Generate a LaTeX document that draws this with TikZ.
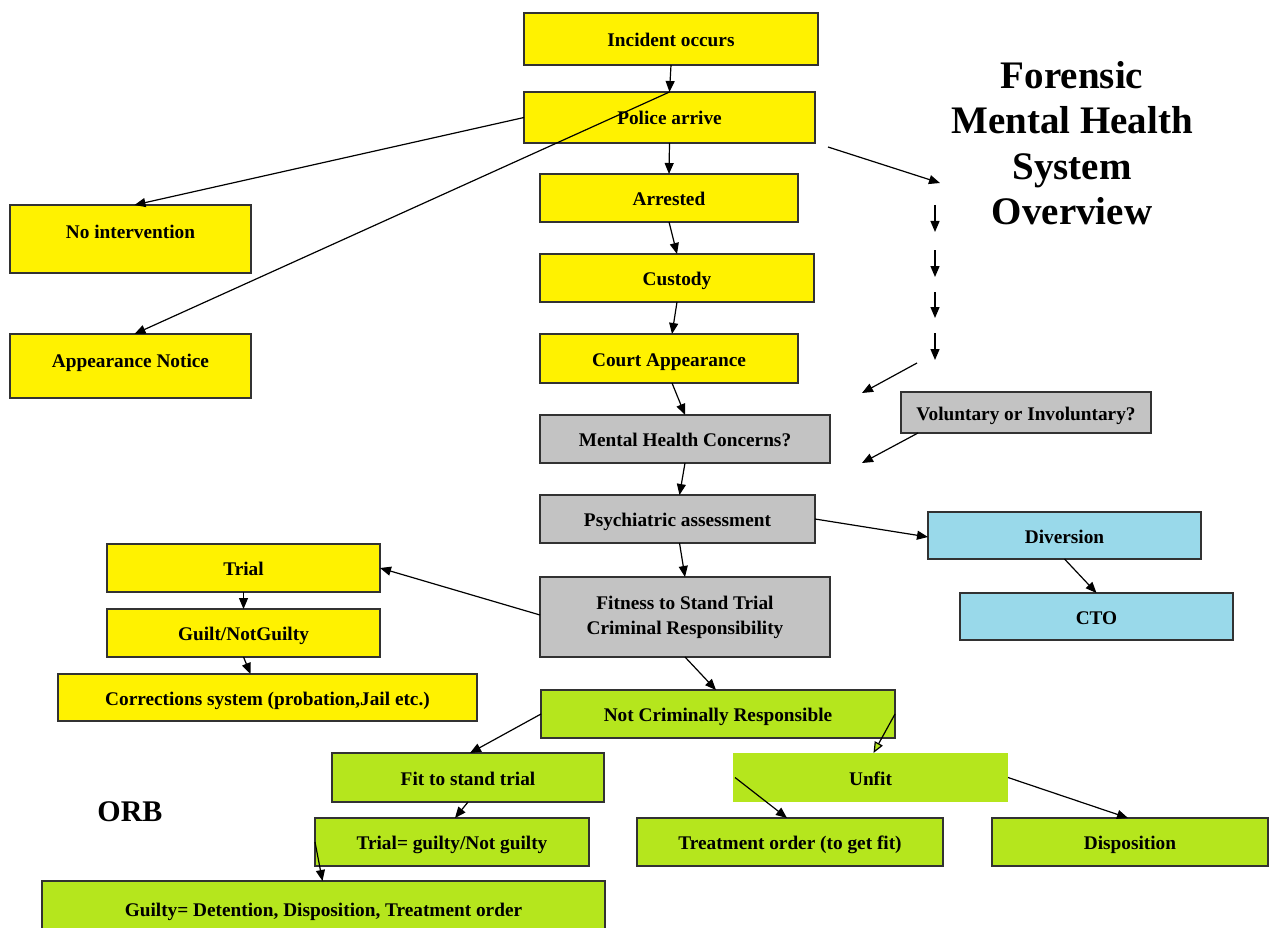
\documentclass[tikz,border=0pt]{standalone}
\usepackage{fontspec}
\setmainfont{Liberation Serif}
\usetikzlibrary{arrows.meta,calc}
\definecolor{ybox}{RGB}{255,242,0}
\definecolor{gbox}{RGB}{195,195,195}
\definecolor{bbox}{RGB}{153,217,234}
\definecolor{lbox}{RGB}{181,230,29}
\definecolor{edge}{RGB}{50,50,50}
\tikzset{
  box/.style={draw=edge, line width=1.3pt, inner sep=0pt, outer sep=0pt, align=center,
    font=\fontsize{19.3}{25}\selectfont\bfseries},
  one/.style={text height=15pt, text depth=0pt},
  yb/.style={box, one, fill=ybox},
  gb/.style={box, fill=gbox},
  bb/.style={box, one, fill=bbox},
  lb/.style={box, one, fill=lbox},
  conn/.style={line width=1.2pt, -{Triangle[length=11pt,width=9pt]}},
}
\begin{document}
\begin{tikzpicture}[x=1pt,y=-1pt]
\clip (0,0) rectangle (1269,928);
\fill[white] (0,0) rectangle (1269,928);
% boxes
\node[yb, minimum width=294, minimum height=52] (inc) at (671,39) {Incident occurs};
\node[yb, minimum width=291, minimum height=51] (pol) at (669.5,117.5) {Police arrive};
\node[yb, minimum width=258, minimum height=48] (arr) at (669,198) {Arrested};
\node[yb, minimum width=241, minimum height=68] (noint) at (130.5,239) {\raisebox{8pt}{No intervention}};
\node[yb, minimum width=241, minimum height=64] (app) at (130.5,366) {\raisebox{6pt}{Appearance Notice}};
\node[yb, minimum width=274, minimum height=48] (cust) at (677,278) {Custody};
\node[yb, minimum width=258, minimum height=49] (court) at (669,358.5) {Court Appearance};
\node[gb, one, minimum width=290, minimum height=48] (mhc) at (685,439) {Mental Health Concerns?};
\node[gb, one, minimum width=250, minimum height=41] (vol) at (1026,412.5) {Voluntary or Involuntary?};
\node[gb, one, minimum width=275, minimum height=48] (psy) at (677.5,519) {Psychiatric assessment};
\node[bb, minimum width=273, minimum height=47] (div) at (1064.5,535.5) {Diversion};
\node[bb, minimum width=273, minimum height=47] (cto) at (1096.5,616.5) {CTO};
\node[yb, minimum width=273, minimum height=48] (trial) at (243.5,568) {Trial};
\node[yb, minimum width=273, minimum height=48] (guilt) at (243.5,633) {Guilt/NotGuilty};
\node[yb, minimum width=419, minimum height=47] (corr) at (267.5,697.5) {Corrections system (probation,Jail etc.)};
\node[gb, minimum width=290, minimum height=80] (fit) at (685,617) {\raisebox{2pt}{\parbox{280pt}{\centering Fitness to Stand Trial\\Criminal Responsibility}}};
\node[lb, minimum width=354, minimum height=48] (ncr) at (718,714) {Not Criminally Responsible};
\node[lb, minimum width=272, minimum height=49] (fst) at (468,777.5) {Fit to stand trial};
\node[lb, draw=none, minimum width=275, minimum height=49] (unfit) at (870.5,777.5) {Unfit};
\node[lb, minimum width=306, minimum height=48] (treat) at (790,842) {Treatment order (to get fit)};
\node[lb, minimum width=276, minimum height=48] (disp) at (1130,842) {Disposition};
\node[lb, minimum width=274, minimum height=48] (tg) at (452,842) {Trial= guilty/Not guilty};
\node[lb, minimum width=563, minimum height=56] (gd) at (323.5,909) {Guilty= Detention, Disposition, Treatment order};
% title and label
\node[font=\fontsize{39}{45.5}\selectfont\bfseries, align=center] (title) at (1072,143) {Forensic\\Mental Health\\System\\Overview};
\node[font=\fontsize{30}{34}\selectfont\bfseries] (orb) at (130,812) {ORB};
% free coordinates
\coordinate (p1) at (828,147);
\coordinate (p2) at (940,183);
\coordinate (d1a) at (935,205); \coordinate (d1b) at (935,232);
\coordinate (d2a) at (935,250); \coordinate (d2b) at (935,277);
\coordinate (d3a) at (935,292); \coordinate (d3b) at (935,318);
\coordinate (d4a) at (935,333); \coordinate (d4b) at (935,360);
\coordinate (q1) at (917,363); \coordinate (q2) at (862,393);
\coordinate (q3) at (862,463);
% connectors
\draw[conn] (inc.south) -- (pol.north);
\draw[conn] (pol.west) -- ($(noint.north)+(4,0)$);
\draw[conn] (pol.north) -- ($(app.north)+(4,0)$);
\draw[conn] (pol.south) -- (arr.north);
\draw[conn] (p1) -- (p2);
\draw[conn] (d1a) -- (d1b);
\draw[conn] (d2a) -- (d2b);
\draw[conn] (d3a) -- (d3b);
\draw[conn] (d4a) -- (d4b);
\draw[conn] (q1) -- (q2);
\draw[conn] ($(vol.south west)+(17,0)$) -- (q3);
\draw[conn] (arr.south) -- (cust.north);
\draw[conn] (cust.south) -- ($(court.north)+(3,0)$);
\draw[conn] ($(court.south)+(3,0)$) -- (mhc.north);
\draw[conn] (mhc.south) -- ($(psy.north)+(2,0)$);
\draw[conn] ($(psy.south)+(2,0)$) -- (fit.north);
\draw[conn] (psy.east) -- ($(div.west)+(0,1.5)$);
\draw[conn] (div.south) -- (cto.north);
\draw[conn] ($(fit.west)+(0,-2)$) -- (trial.east);
\draw[conn] (trial.south) -- (guilt.north);
\draw[conn] (guilt.south) -- ($(corr.north)+(-17,0)$);
\draw[conn] (fit.south) -- ($(ncr.north)+(-2,0)$);
\draw[conn] (ncr.west) -- ($(fst.north)+(2,0)$);
\draw[line width=1.2pt, -{Triangle[length=11pt,width=9pt,fill=lbox]}] (ncr.east) -- ($(unfit.north)+(3,0)$);
\draw[conn] ($(unfit.west)+(2,0)$) -- ($(treat.north)+(-3,0)$);
\draw[conn] (unfit.east) -- ($(disp.north)+(-2,0)$);
\draw[conn] (fst.south) -- ($(tg.north)+(3,0)$);
\draw[conn] (tg.west) -- ($(gd.north)+(-1,0)$);
\end{tikzpicture}
\end{document}
